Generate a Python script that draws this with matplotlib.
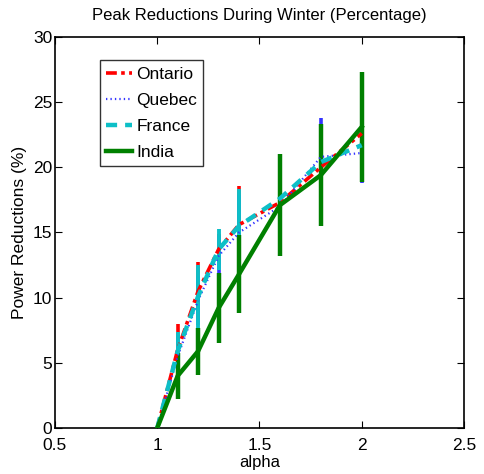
import matplotlib
matplotlib.use("Agg")
import matplotlib.pyplot as plt
import numpy as np

plt.rcParams['font.family'] = ['Liberation Sans', 'DejaVu Sans']

alpha = [1.0, 1.1, 1.2, 1.3, 1.4, 1.6, 1.8, 2.0]
ontario = [0, 6.0, 10.5, 13.7, 15.6, 17.3, 20.0, 22.6]
ontario_err = [0, 2.0, 2.2, 1.2, 3.0, 3.2, 3.0, 2.2]
quebec = [0, 5.5, 9.8, 13.2, 15.0, 17.0, 20.8, 21.1]
quebec_err = [0, 1.6, 1.9, 1.5, 2.9, 3.0, 3.0, 2.3]
france = [0, 5.9, 10.1, 13.7, 15.5, 17.6, 20.4, 21.7]
france_err = [0, 1.5, 2.4, 1.6, 2.8, 3.0, 2.8, 2.0]
india = [0, 4.0, 5.9, 9.2, 11.8, 17.1, 19.4, 23.1]
india_err = [0, 1.75, 1.8, 2.7, 3.0, 3.9, 3.9, 4.2]

fig = plt.figure(figsize=(4.84, 4.74), dpi=100)
ax = fig.add_axes([0.1136, 0.097, 0.845, 0.825])

series = [
    ("Ontario", ontario, ontario_err, (1, 0, 0), (0, (3, 1.2, 1, 1.2)), 2.6, 2.6),
    ("Quebec", quebec, quebec_err, (0.2, 0.2, 1), (0, (0.6, 1.4)), 1.6, 2.6),
    ("France", france, france_err, (0.05, 0.75, 0.78), (0, (2.5, 1.8)), 3.2, 2.8),
    ("India", india, india_err, (0, 0.5, 0), '-', 3.2, 3.2),
]
for name, y, e, col, ls, lw, elw in series:
    x = np.array(alpha)
    y = np.array(y)
    e = np.array(e)
    m = e > 0
    ax.vlines(x[m], (y - e)[m], (y + e)[m], colors=[col], linewidth=elw, zorder=2)
    ax.plot(x, y, color=col, linestyle=ls, linewidth=lw, label=name, zorder=3)

ax.set_xlim(0.5, 2.5)
ax.set_ylim(0, 30)
ax.set_xticks([0.5, 1, 1.5, 2, 2.5])
ax.set_xticklabels(['0.5', '1', '1.5', '2', '2.5'])
ax.set_yticks([0, 5, 10, 15, 20, 25, 30])
ax.tick_params(direction='in', top=True, right=True, length=5, width=0.8, labelsize=12.5, pad=2)
ax.tick_params(axis='x', pad=7.5)
for s in ax.spines.values():
    s.set_linewidth(1.2)

ax.set_title("Peak Reductions During Winter (Percentage)", fontsize=12, pad=12)
ax.set_xlabel("alpha", fontsize=12, labelpad=1)
ax.set_ylabel("Power Reductions (%)", fontsize=12.5, labelpad=4)

leg = ax.legend(loc='upper left', bbox_to_anchor=(0.11, 0.94), fontsize=12.5, frameon=True,
                fancybox=False, edgecolor='black', handlelength=1.5, handletextpad=0.25,
                borderpad=0.35, labelspacing=0.63, borderaxespad=0)
leg.get_frame().set_linewidth(1.0)

fig.savefig("out.png", dpi=100)
